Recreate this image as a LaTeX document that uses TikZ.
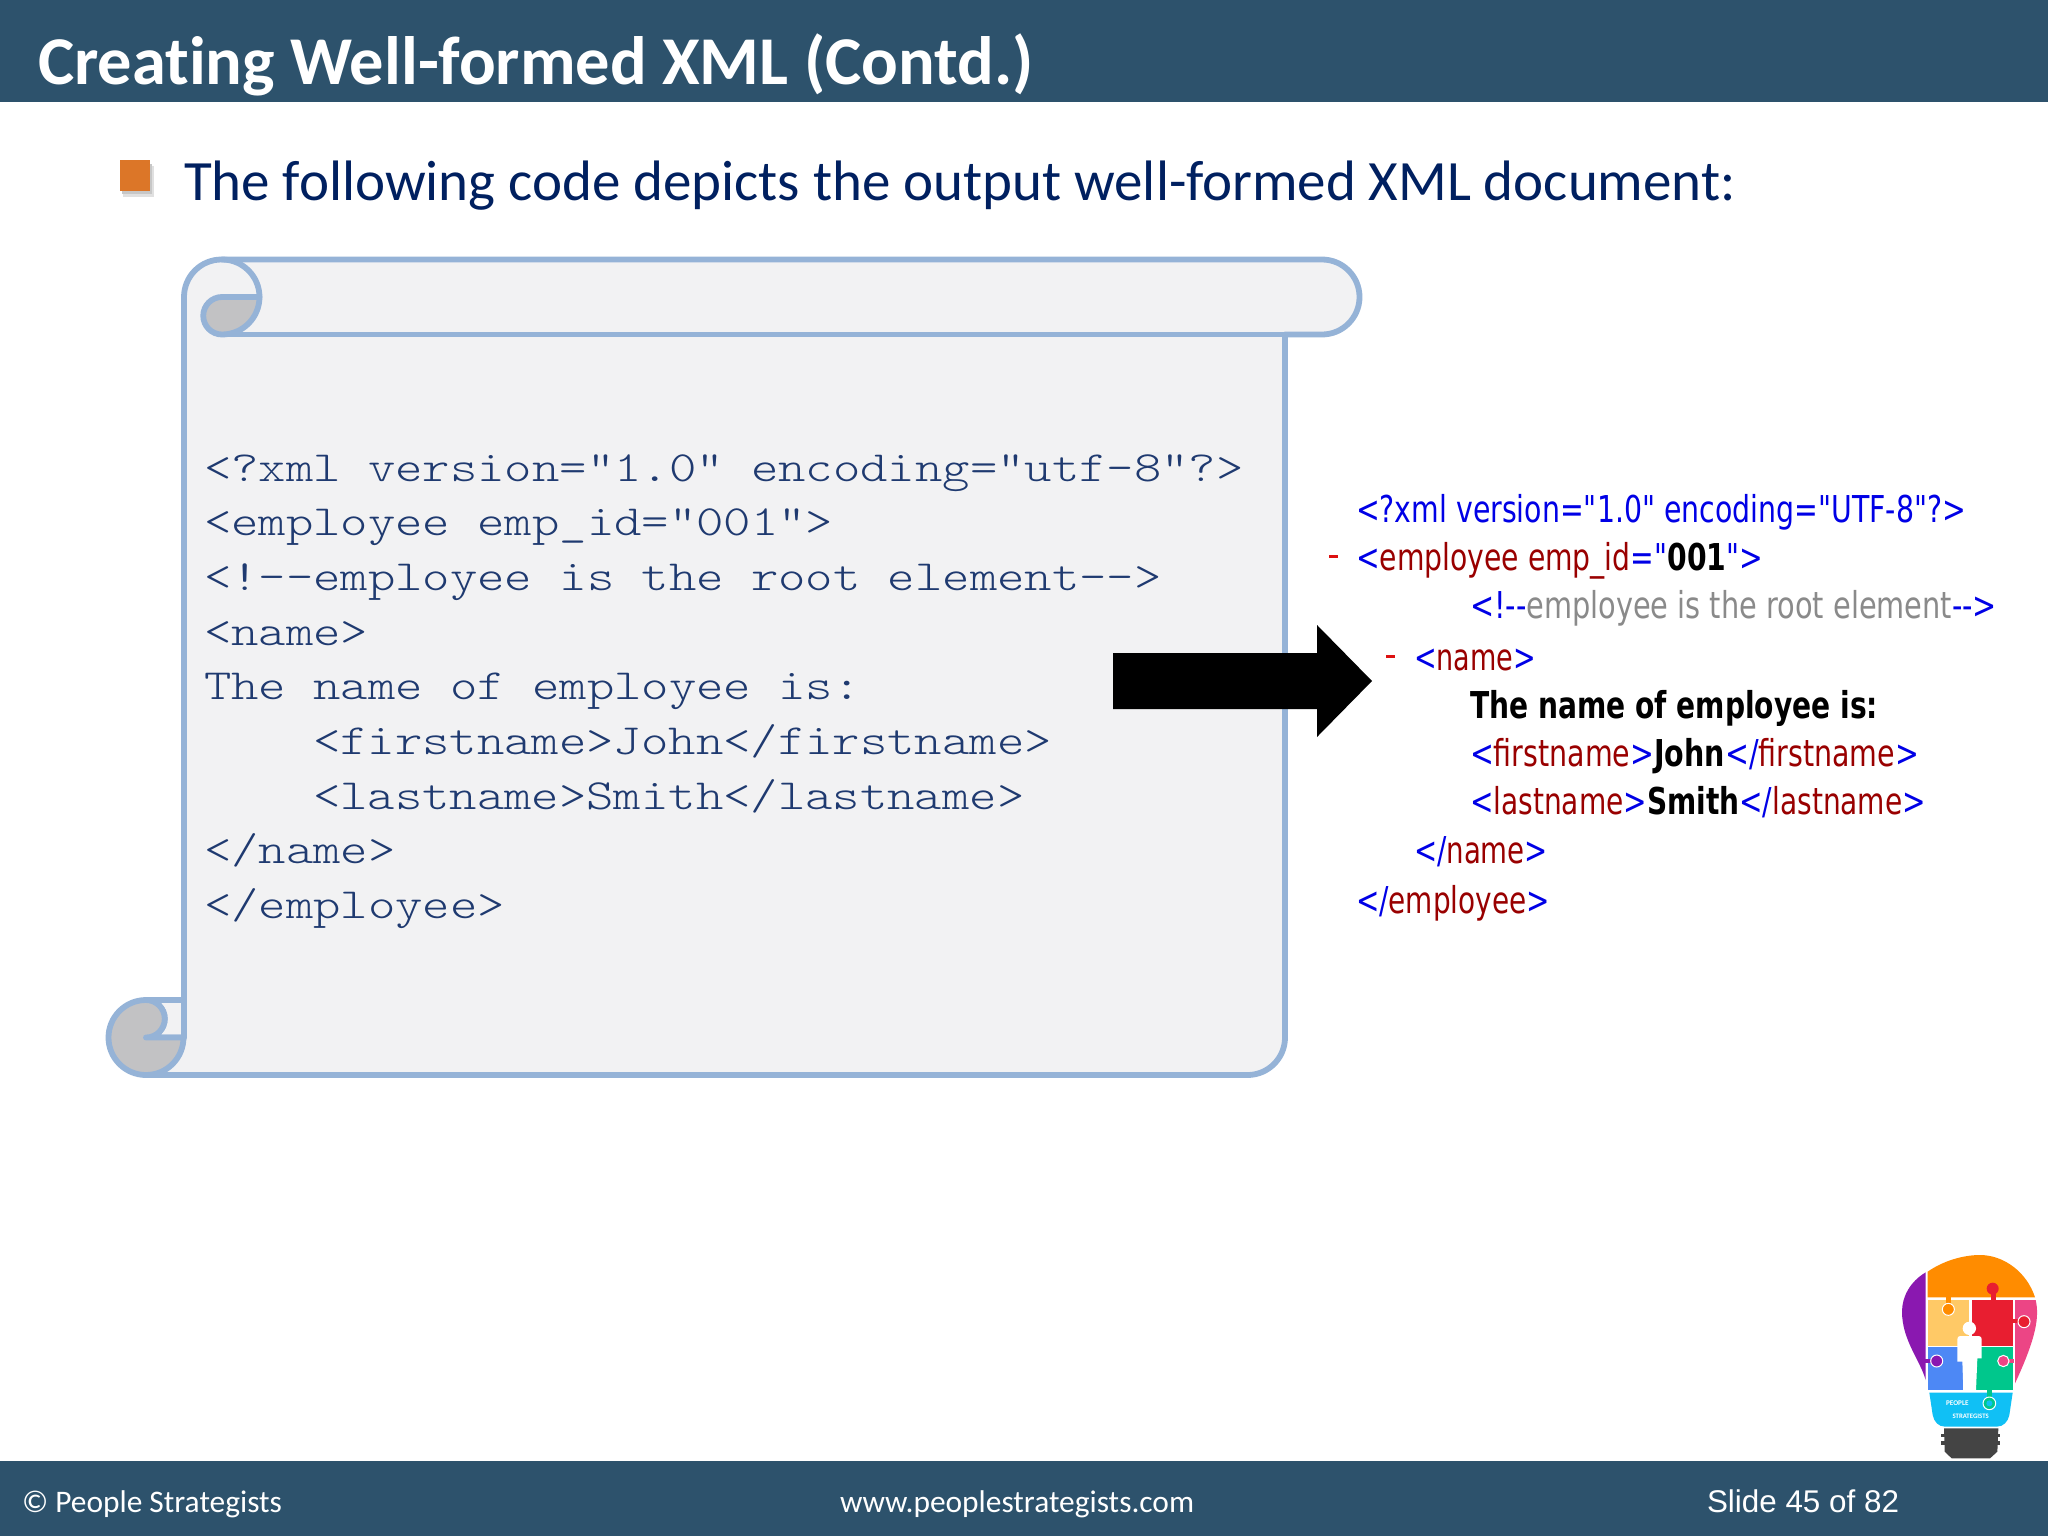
\documentclass[tikz,border=0pt]{standalone}
\usepackage{fontspec}
\usepackage{graphicx}
\setmainfont[Ligatures=NoCommon]{Carlito}
\newfontfamily\codefont[FakeStretch=1.212,Ligatures=NoCommon]{Latin Modern Mono Light}
\newfontfamily\shotfont{DejaVu Sans}
\newfontfamily\arialfont{Liberation Sans}
\definecolor{barblue}{HTML}{2D526C}
\definecolor{scrollline}{HTML}{95B3D7}
\definecolor{scrollfill}{HTML}{F2F2F3}
\definecolor{curlgrey}{HTML}{C2C2C4}
\definecolor{bulletor}{HTML}{DC7628}
\definecolor{navytext}{HTML}{002060}
\definecolor{codenavy}{HTML}{1F3A70}
\definecolor{xblue}{HTML}{0000E6}
\definecolor{xred}{HTML}{990000}
\definecolor{xdash}{HTML}{DD1111}
\definecolor{xgrey}{HTML}{8A8A8A}
\definecolor{lgpurple}{HTML}{8A18B0}
\definecolor{lgorange}{HTML}{FF8C00}
\definecolor{lgyellow}{HTML}{FFC966}
\definecolor{lgred}{HTML}{E81E30}
\definecolor{lgpink}{HTML}{EC4585}
\definecolor{lgblue}{HTML}{4D88F5}
\definecolor{lggreen}{HTML}{00C78C}
\definecolor{lgcyan}{HTML}{10C0F5}
\definecolor{lgbase}{HTML}{444444}
\newcommand{\fsz}[1]{\fontsize{#1}{#1}\selectfont}
% \shotline{name}{x}{baseline y}{width in picture units}{content}
\newcommand{\shotline}[5]{\node[shot] (#1) at (#2,#3) {\resizebox{\dimexpr #4pt/2\relax}{\height}{#5}};}
\tikzset{
  x=0.5pt,y=-0.5pt,
  scrollstroke/.style={draw=scrollline,line width=2.9pt,line join=round,line cap=round},
  codeline/.style={anchor=base west,inner sep=0pt,outer sep=0pt,text=codenavy,font=\codefont\fsz{21.5pt}},
  shot/.style={anchor=base west,inner sep=0pt,outer sep=0pt,font=\shotfont\fsz{18.5pt}},
  footer/.style={anchor=base west,inner sep=0pt,outer sep=0pt,text=white},
  knobline/.style={draw=white,line width=0.5pt},
}
\begin{document}
\begin{tikzpicture}
\useasboundingbox (0,0) rectangle (2048,1536);
\fill[white] (0,0) rectangle (2048,1536);
% bars
\fill[barblue] (0,0) rectangle (2048,102);
\fill[barblue] (0,1461) rectangle (2048,1536);
\node[footer,font=\fsz{34.2pt}\bfseries] (title) at (38,84) {Creating Well-formed XML (Contd.)};
% bullet
\fill[black!12] (123,166) rectangle (154,197);
\fill[black!22] (122,164) rectangle (152,194);
\fill[bulletor] (120,160) rectangle (150,191);
\node[footer,text=navytext,font=\fsz{28.5pt}] (lead) at (184,200) {The following code depicts the output well-formed XML document:};
% scroll body
\path[scrollstroke,fill=scrollfill]
  (184,1037.5) -- (184,297) arc[start angle=180,end angle=270,radius=37.5]
  -- (1322,259.5) arc[start angle=270,end angle=450,radius=37.5] -- (1285,334.5)
  -- (1285,1037.5) arc[start angle=0,end angle=90,radius=37.5] -- (146,1075) -- cycle;
\draw[scrollstroke] (222,334.5) -- (1285,334.5);
% top curl
\path[scrollstroke,fill=curlgrey] (259.5,297) -- (222,297)
  arc[start angle=270,end angle=90,radius=18.75]
  arc[start angle=90,end angle=0,radius=37.5];
\draw[scrollstroke] (259.5,297) arc[start angle=0,end angle=-90,radius=37.5];
% bottom curl
\path[scrollstroke,fill=scrollfill] (146,1000) -- (184,1000) -- (184,1037.5) -- (146,1037.5)
  arc[start angle=90,end angle=-90,radius=18.75];
\path[scrollstroke,fill=curlgrey] (146,1037.5) -- (183.5,1037.5)
  arc[start angle=0,end angle=270,radius=37.5]
  arc[start angle=270,end angle=450,radius=18.75];
% code
\node[codeline] (c1) at (204,481) {<?xml version="1.0" encoding="utf-8"?>};
\node[codeline] (c2) at (204,535.7) {<employee emp\_id="001">};
\node[codeline] (c3) at (204,590.4) {<!-{}-employee is the root element-{}->};
\node[codeline] (c4) at (204,645.1) {<name>};
\node[codeline] (c5) at (204,699.8) {The name of employee is:};
\node[codeline] (c6) at (313,754.5) {<firstname>John</firstname>};
\node[codeline] (c7) at (313,809.2) {<lastname>Smith</lastname>};
\node[codeline] (c8) at (204,863.9) {</name>};
\node[codeline] (c9) at (204,918.6) {</employee>};
% arrow
\fill[black] (1113,653) -- (1317,653) -- (1317,625) -- (1372,681) -- (1317,737) -- (1317,709) -- (1113,709) -- cycle;
% screenshot text
\shotline{s1}{1356}{522}{610}{\color{xblue}<?xml version="1.0" encoding="UTF-8"?>}
\fill[xdash] (1329,555) rectangle (1338,558);
\shotline{s2}{1356}{570}{407}{\color{xblue}<\color{xred}employee emp\_id\color{xblue}="\color{black}\bfseries 001\color{xblue}\mdseries">}
\shotline{s3}{1470}{618}{527}{\color{xblue}<!-{}-\color{xgrey}employee is the root element\color{xblue}-{}->}
\fill[xdash] (1386,655) rectangle (1395,658);
\shotline{s4}{1414}{670}{122}{\color{xblue}<\color{xred}name\color{xblue}>}
\shotline{s5}{1470}{718}{408}{\bfseries The name of employee is:}
\shotline{s6}{1470}{766}{449}{\color{xblue}<\color{xred}firstname\color{xblue}>\color{black}\bfseries John\mdseries\color{xblue}</\color{xred}firstname\color{xblue}>}
\shotline{s7}{1470}{814}{456}{\color{xblue}<\color{xred}lastname\color{xblue}>\color{black}\bfseries Smith\mdseries\color{xblue}</\color{xred}lastname\color{xblue}>}
\shotline{s8}{1414}{863}{134}{\color{xblue}</\color{xred}name\color{xblue}>}
\shotline{s9}{1356}{913}{194}{\color{xblue}</\color{xred}employee\color{xblue}>}
% footer
\node[footer,font=\fsz{15.7pt}] (f1) at (22,1512) {© People Strategists};
\node[footer,font=\fsz{15.7pt}] (f2) at (840,1512) {www.peoplestrategists.com};
\node[footer,font=\arialfont\fsz{15.7pt}] (f3) at (1707,1512) {Slide 45 of 82};
% logo
\begin{scope}[shift={(1880,1240)},scale=1/3]
\fill[lgpurple] (137,97) .. controls (90,125) and (66,170) .. (66,215) .. controls (66,300) and (120,360) .. (137,420) -- cycle;
\fill[lgorange] (143,172) -- (143,95) .. controls (190,62) and (250,45) .. (300,45) .. controls (370,45) and (440,95) .. (465,172) -- cycle;
\fill[lgpink] (405,180) -- (467,180) .. controls (478,230) and (470,290) .. (405,430) -- cycle;
\fill[lgyellow] (143,180) rectangle (268,318);
\fill[lgred] (275,180) rectangle (400,318);
\fill[lgblue] (143,322) rectangle (248,450);
\fill[lggreen] (288,322) rectangle (400,450);
% puzzle knobs
\fill[lgorange] (198,172) rectangle (212,195);
\filldraw[fill=lgorange,knobline] (205,208) circle[radius=18];
\fill[lgred] (333,150) rectangle (347,180);
\fill[lgred] (338,146) circle[radius=18];
\fill[lgred] (400,238) rectangle (425,250);
\filldraw[fill=lgred,knobline] (432,245) circle[radius=18];
\fill[lgpurple] (135,357) rectangle (160,370);
\filldraw[fill=lgpurple,knobline] (170,363) circle[radius=18];
\fill[lgpink] (372,357) rectangle (402,370);
\filldraw[fill=lgpink,knobline] (370,363) circle[radius=17];
% person
\fill[white] (268,265) circle[radius=20];
\fill[white] (240,288) -- (296,288) .. controls (302,288) and (305,292) .. (305,298) -- (305,355) -- (292,355) -- (288,450) -- (250,450) -- (247,365) -- (232,365) -- (232,298) .. controls (232,292) and (235,288) .. (240,288) -- cycle;
% socket
\fill[lgcyan] (148,458) -- (398,458) -- (388,525) .. controls (384,545) and (370,560) .. (350,560) -- (195,560) .. controls (175,560) and (162,545) .. (158,525) -- cycle;
\fill[lggreen] (320,450) rectangle (336,480);
\filldraw[fill=lggreen,knobline] (328,490) circle[radius=19];
\fill[lgcyan] (328,490) circle[radius=9];
\node[anchor=center,inner sep=0pt,text=white,font=\fsz{3.6pt}\bfseries] (lg1) at (232,490) {PEOPLE};
\node[anchor=center,inner sep=0pt,text=white,font=\fsz{3.4pt}\bfseries] (lg2) at (272,530) {STRATEGISTS};
% lamp base
\fill[lgbase] (192,565) -- (355,565) -- (352,635) -- (330,655) -- (215,655) -- (194,635) -- cycle;
\fill[lgbase] (184,582) rectangle (361,592);
\fill[lgbase] (184,604) rectangle (361,614);
\end{scope}
\end{tikzpicture}
\end{document}
